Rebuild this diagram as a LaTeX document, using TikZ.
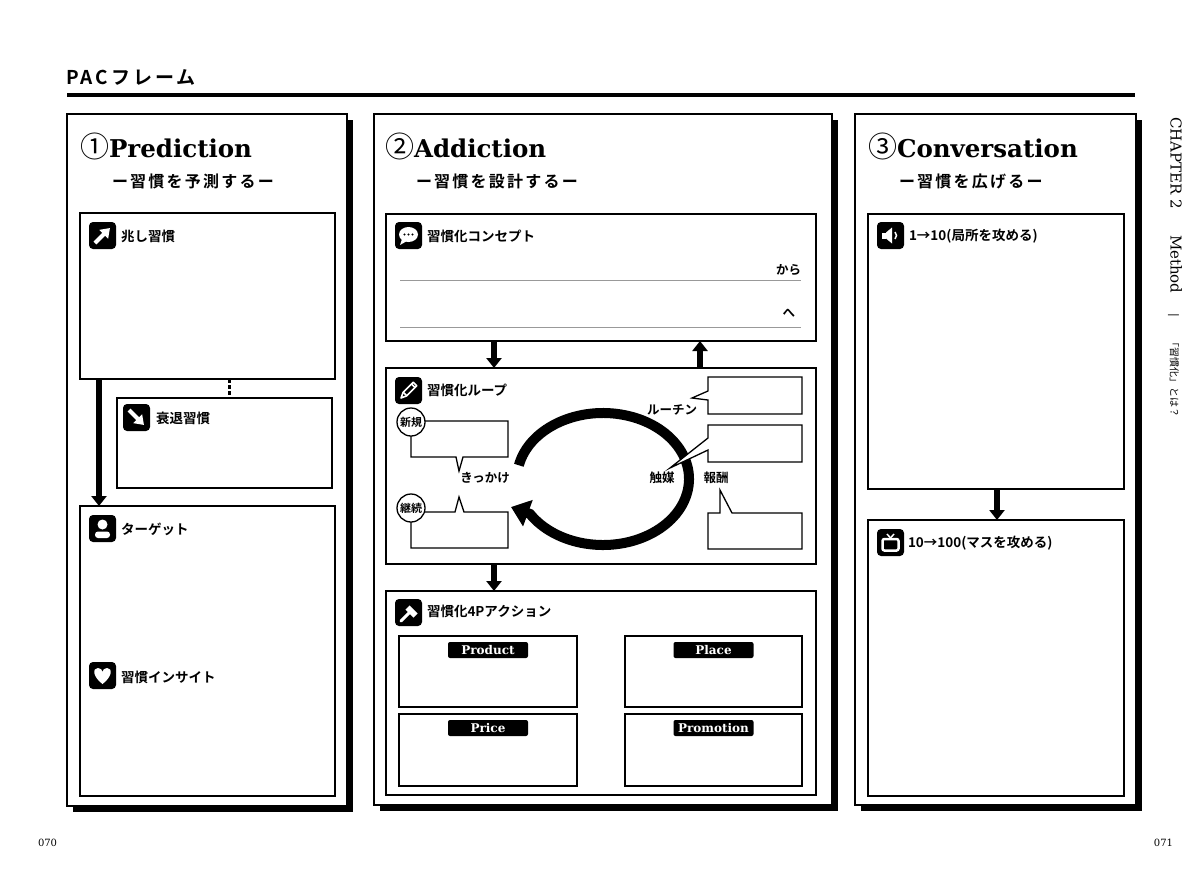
\documentclass[tikz,border=0pt]{standalone}
\usepackage{fontspec}
\setmainfont{DejaVu Serif}
\newfontfamily\jp{Noto Sans CJK JP}
\newfontfamily\jpb{Noto Sans CJK JP Bold}
\newfontfamily\jpbs{Noto Sans CJK JP Bold}[LetterSpace=14]
\newfontfamily\jpbt{Noto Sans CJK JP Bold}[LetterSpace=16]
\usetikzlibrary{arrows.meta,shadows}
\begin{document}
\begin{tikzpicture}[x=1pt,y=-1pt,
 every node/.style={inner sep=0pt, outer sep=0pt},
 colbox/.style={draw, line width=2.5pt, fill=white, anchor=north west, general shadow={fill=black, shadow xshift=6pt, shadow yshift=-6pt}},
 inbox/.style={draw, line width=2pt, fill=white, anchor=north west},
 thinbox/.style={draw, line width=1.3pt, anchor=north west},
 tab/.style={fill=black, rounded corners=2pt, minimum width=80pt, minimum height=16pt, text=white, font=\bfseries\fontsize{12}{12}\selectfont, anchor=north},
 lbl/.style={anchor=west, font=\jpb\fontsize{13.5}{14}\selectfont},
 hd/.style={anchor=base west},
 sub/.style={anchor=west, font=\jpbs\fontsize{16}{16}\selectfont},
 big/.style={line width=6pt, -{Triangle[length=10pt,width=15pt]}},
 icon/.style={fill=black, rounded corners=4pt},
 callout/.style={draw, line width=1.3pt, fill=white, line join=miter},
 sm/.style={font=\jpb\fontsize{12.5}{13}\selectfont},
 circ/.style={circle, draw, line width=1.3pt, fill=white, minimum size=28pt, font=\jpb\fontsize{11}{11}\selectfont}
]
\fill[white] (0,0) rectangle (1200,881);
\useasboundingbox (0,0) rectangle (1200,881);

% title
\node[anchor=west, font=\jpbt\fontsize{19}{19}\selectfont] (title) at (66,77) {PACフレーム};
\draw[line width=3.5pt] (67,95) -- (1135,95);

% columns
\node[colbox, minimum width=280pt, minimum height=692pt] (c1) at (67,114) {};
\node[colbox, minimum width=458pt, minimum height=691pt] (c2) at (374,114) {};
\node[colbox, minimum width=281pt, minimum height=691pt] (c3) at (855,114) {};

% headings
\node[hd] (h1) at (80,157) {{\jp\fontsize{29}{29}\selectfont ①}{\bfseries\fontsize{24.5}{25}\selectfont Prediction}};
\node[hd] (h2) at (385,157) {{\jp\fontsize{29}{29}\selectfont ②}{\bfseries\fontsize{24.5}{25}\selectfont Addiction}};
\node[hd] (h3) at (868,157) {{\jp\fontsize{29}{29}\selectfont ③}{\bfseries\fontsize{24.5}{25}\selectfont Conversation}};
\node[sub] (s1) at (112,181) {ー習慣を予測するー};
\node[sub] (s2) at (416,181) {ー習慣を設計するー};
\node[sub] (s3) at (899,181) {ー習慣を広げるー};

% ---------- column 1 ----------
\node[inbox, minimum width=255pt, minimum height=166pt] (kiz) at (80,213) {};
\node[inbox, minimum width=215pt, minimum height=90pt] (sui) at (117,398) {};
\node[inbox, minimum width=255pt, minimum height=290pt] (tgt) at (80,506) {};
\draw[line width=3pt, dash pattern=on 3.5pt off 2.5pt] ([xshift=149pt]kiz.south west) -- ([xshift=112pt]sui.north west);
\draw[big] ([xshift=19pt]kiz.south west) -- ([xshift=19pt]tgt.north west);

\begin{scope}[shift={(89,222)}]
\fill[icon] (0,0) rectangle (27,27);
\draw[white, line width=4pt, -{Triangle[length=9pt,width=12pt]}] (6,21) -- (21,6);
\end{scope}
\node[lbl] (lkiz) at (121,236) {兆し習慣};

\begin{scope}[shift={(123,404)}]
\fill[icon] (0,0) rectangle (27,27);
\draw[white, line width=4pt, -{Triangle[length=9pt,width=12pt]}] (6,6) -- (21,21);
\end{scope}
\node[lbl] (lsui) at (156,418) {衰退習慣};

\begin{scope}[shift={(89,515)}]
\fill[icon] (0,0) rectangle (27,27);
\fill[white] (13.5,9.5) circle (5);
\fill[white, rounded corners=3pt] (6,23) -- (6,16.5) -- (21,16.5) -- (21,23) -- cycle;
\end{scope}
\node[lbl] (ltgt) at (121,529) {ターゲット};

\begin{scope}[shift={(89,662)}]
\fill[icon] (0,0) rectangle (27,27);
\fill[white] (13.5,22) .. controls (4,15) and (3,6) .. (9,6) .. controls (11.5,6) and (13.5,8) .. (13.5,10) .. controls (13.5,8) and (15.5,6) .. (18,6) .. controls (24,6) and (23,15) .. (13.5,22) -- cycle;
\end{scope}
\node[lbl] (lins) at (121,677) {習慣インサイト};

% ---------- column 2 ----------
\node[inbox, minimum width=430pt, minimum height=127pt] (con) at (386,214) {};
\node[inbox, minimum width=430pt, minimum height=196pt] (loop) at (386,368) {};
\node[inbox, minimum width=430pt, minimum height=204pt] (fp) at (386,591) {};
\draw[big] ([xshift=108pt]con.south west) -- ([xshift=108pt]loop.north west);
\draw[big] ([xshift=314pt]loop.north west) -- ([xshift=314pt]con.south west);
\draw[big] ([xshift=108pt]loop.south west) -- ([xshift=108pt]fp.north west);

\begin{scope}[shift={(395,222)}]
\fill[icon] (0,0) rectangle (27,27);
\fill[white] (13.5,12.5) ellipse [x radius=9.5, y radius=7.5];
\fill[white] (7,17) -- (5,23) -- (12,19) -- cycle;
\fill[black] (9.5,12.5) circle (1.1) (13.5,12.5) circle (1.1) (17.5,12.5) circle (1.1);
\end{scope}
\node[lbl] (lcon) at (427,236) {習慣化コンセプト};
\draw[gray!80, line width=1pt] ([xshift=14pt,yshift=-66pt]con.north west) -- ([xshift=-15pt,yshift=-66pt]con.north east);
\draw[gray!80, line width=1pt] ([xshift=14pt,yshift=-113pt]con.north west) -- ([xshift=-15pt,yshift=-113pt]con.north east);
\node[anchor=east, sm] (kara) at (801,270) {から};
\node[anchor=east, sm] (he) at (795,313) {へ};

\begin{scope}[shift={(395,377)}]
\fill[icon] (0,0) rectangle (27,27);
\draw[white, line width=1.6pt, line join=round] (6,21) -- (8.2,15.2) -- (18.2,5.2) -- (21.8,8.8) -- (11.8,18.8) -- cycle;
\draw[white, line width=1.6pt] (8.2,15.2) -- (11.8,18.8) (16.4,7) -- (20,10.6);
\end{scope}
\node[lbl] (lloop) at (427,390) {習慣化ループ};

% loop ring
\draw[line width=10pt, -{Triangle[length=18pt,width=27pt]}] (603,479) ++(192:86 and 66) arc[start angle=192, end angle=508, x radius=86, y radius=66] -- (511,507);

% left callouts
\draw[callout] (411,421) -- (508,421) -- (508,457) -- (463,457) -- (459,471) -- (456,457) -- (411,457) -- cycle;
\node[circ] (shinki) at (411,422) {新規};
\draw[callout] (411,512) -- (455,512) -- (459,497) -- (464,512) -- (508,512) -- (508,548) -- (411,548) -- cycle;
\node[circ] (keizoku) at (411,508) {継続};
\node[sm] (kikkake) at (485,478) {きっかけ};

% right callouts
\draw[callout] (708,377) -- (802,377) -- (802,414) -- (708,414) -- (708,400) -- (692,398) -- (708,391) -- cycle;
\draw[callout] (708,425) -- (802,425) -- (802,462) -- (708,462) -- (708,450) -- (670,468) -- (708,438) -- cycle;
\draw[callout] (708,513) -- (720,513) -- (720,490) -- (732,513) -- (802,513) -- (802,549) -- (708,549) -- cycle;
\node[sm] (routine) at (672,410) {ルーチン};
\node[sm] (shokubai) at (662,478) {触媒};
\node[sm] (hoshu) at (716,478) {報酬};

% 4P
\begin{scope}[shift={(395,599)}]
\fill[icon] (0,0) rectangle (27,27);
\draw[white, line width=3pt, line cap=round] (6,22) -- (16,12);
\draw[white, line width=6pt] (12.5,8.5) -- (20.5,16.5);
\end{scope}
\node[lbl] (lfp) at (427,611) {習慣化4Pアクション};
\node[thinbox, minimum width=178pt, minimum height=71pt] (prod) at (399,636) {};
\node[thinbox, minimum width=177pt, minimum height=71pt] (plac) at (625,636) {};
\node[thinbox, minimum width=178pt, minimum height=72pt] (pric) at (399,714) {};
\node[thinbox, minimum width=177pt, minimum height=72pt] (prom) at (625,714) {};
\node[tab] (tprod) at ([yshift=-6pt]prod.north) {Product};
\node[tab] (tplac) at ([yshift=-6pt]plac.north) {Place};
\node[tab] (tpric) at ([yshift=-6pt]pric.north) {Price};
\node[tab] (tprom) at ([yshift=-6pt]prom.north) {Promotion};

% ---------- column 3 ----------
\node[inbox, minimum width=256pt, minimum height=275pt] (r1) at (868,214) {};
\node[inbox, minimum width=256pt, minimum height=276pt] (r2) at (868,520) {};
\draw[big] ([xshift=129pt]r1.south west) -- ([xshift=129pt]r2.north west);

\begin{scope}[shift={(877,222)}]
\fill[icon] (0,0) rectangle (27,27);
\fill[white] (5,10.5) rectangle (9,16.5);
\fill[white] (9,10.5) -- (15,5.5) -- (15,21.5) -- (9,16.5) -- cycle;
\draw[white, line width=1.5pt] (18,10) .. controls (20,12) and (20,15) .. (18,17);
\end{scope}
\node[lbl] (lr1) at (909,236) {1→10(局所を攻める)};

\begin{scope}[shift={(877,529)}]
\fill[icon] (0,0) rectangle (27,27);
\draw[white, line width=2.5pt, rounded corners=2pt] (5.5,10) rectangle (21.5,21.5);
\draw[white, line width=1.5pt] (10,5) -- (13.5,9) -- (17,5);
\end{scope}
\node[lbl] (lr2) at (908,543) {10→100(マスを攻める)};

% side text and page numbers
\node[rotate=-90, anchor=west, font=\fontsize{15}{15}\selectfont] (chap) at (1175,117) {CHAPTER 2\hspace{26pt}Method\hspace{20pt}{\fontsize{11}{11}\selectfont |}\hspace{20pt}{\jp\fontsize{10}{10}\selectfont 「習慣化」とは？}};
\node[anchor=west, font=\fontsize{10}{10}\selectfont] (p70) at (38,843) {070};
\node[anchor=east, font=\fontsize{10}{10}\selectfont] (p71) at (1173,843) {071};
\end{tikzpicture}
\end{document}
